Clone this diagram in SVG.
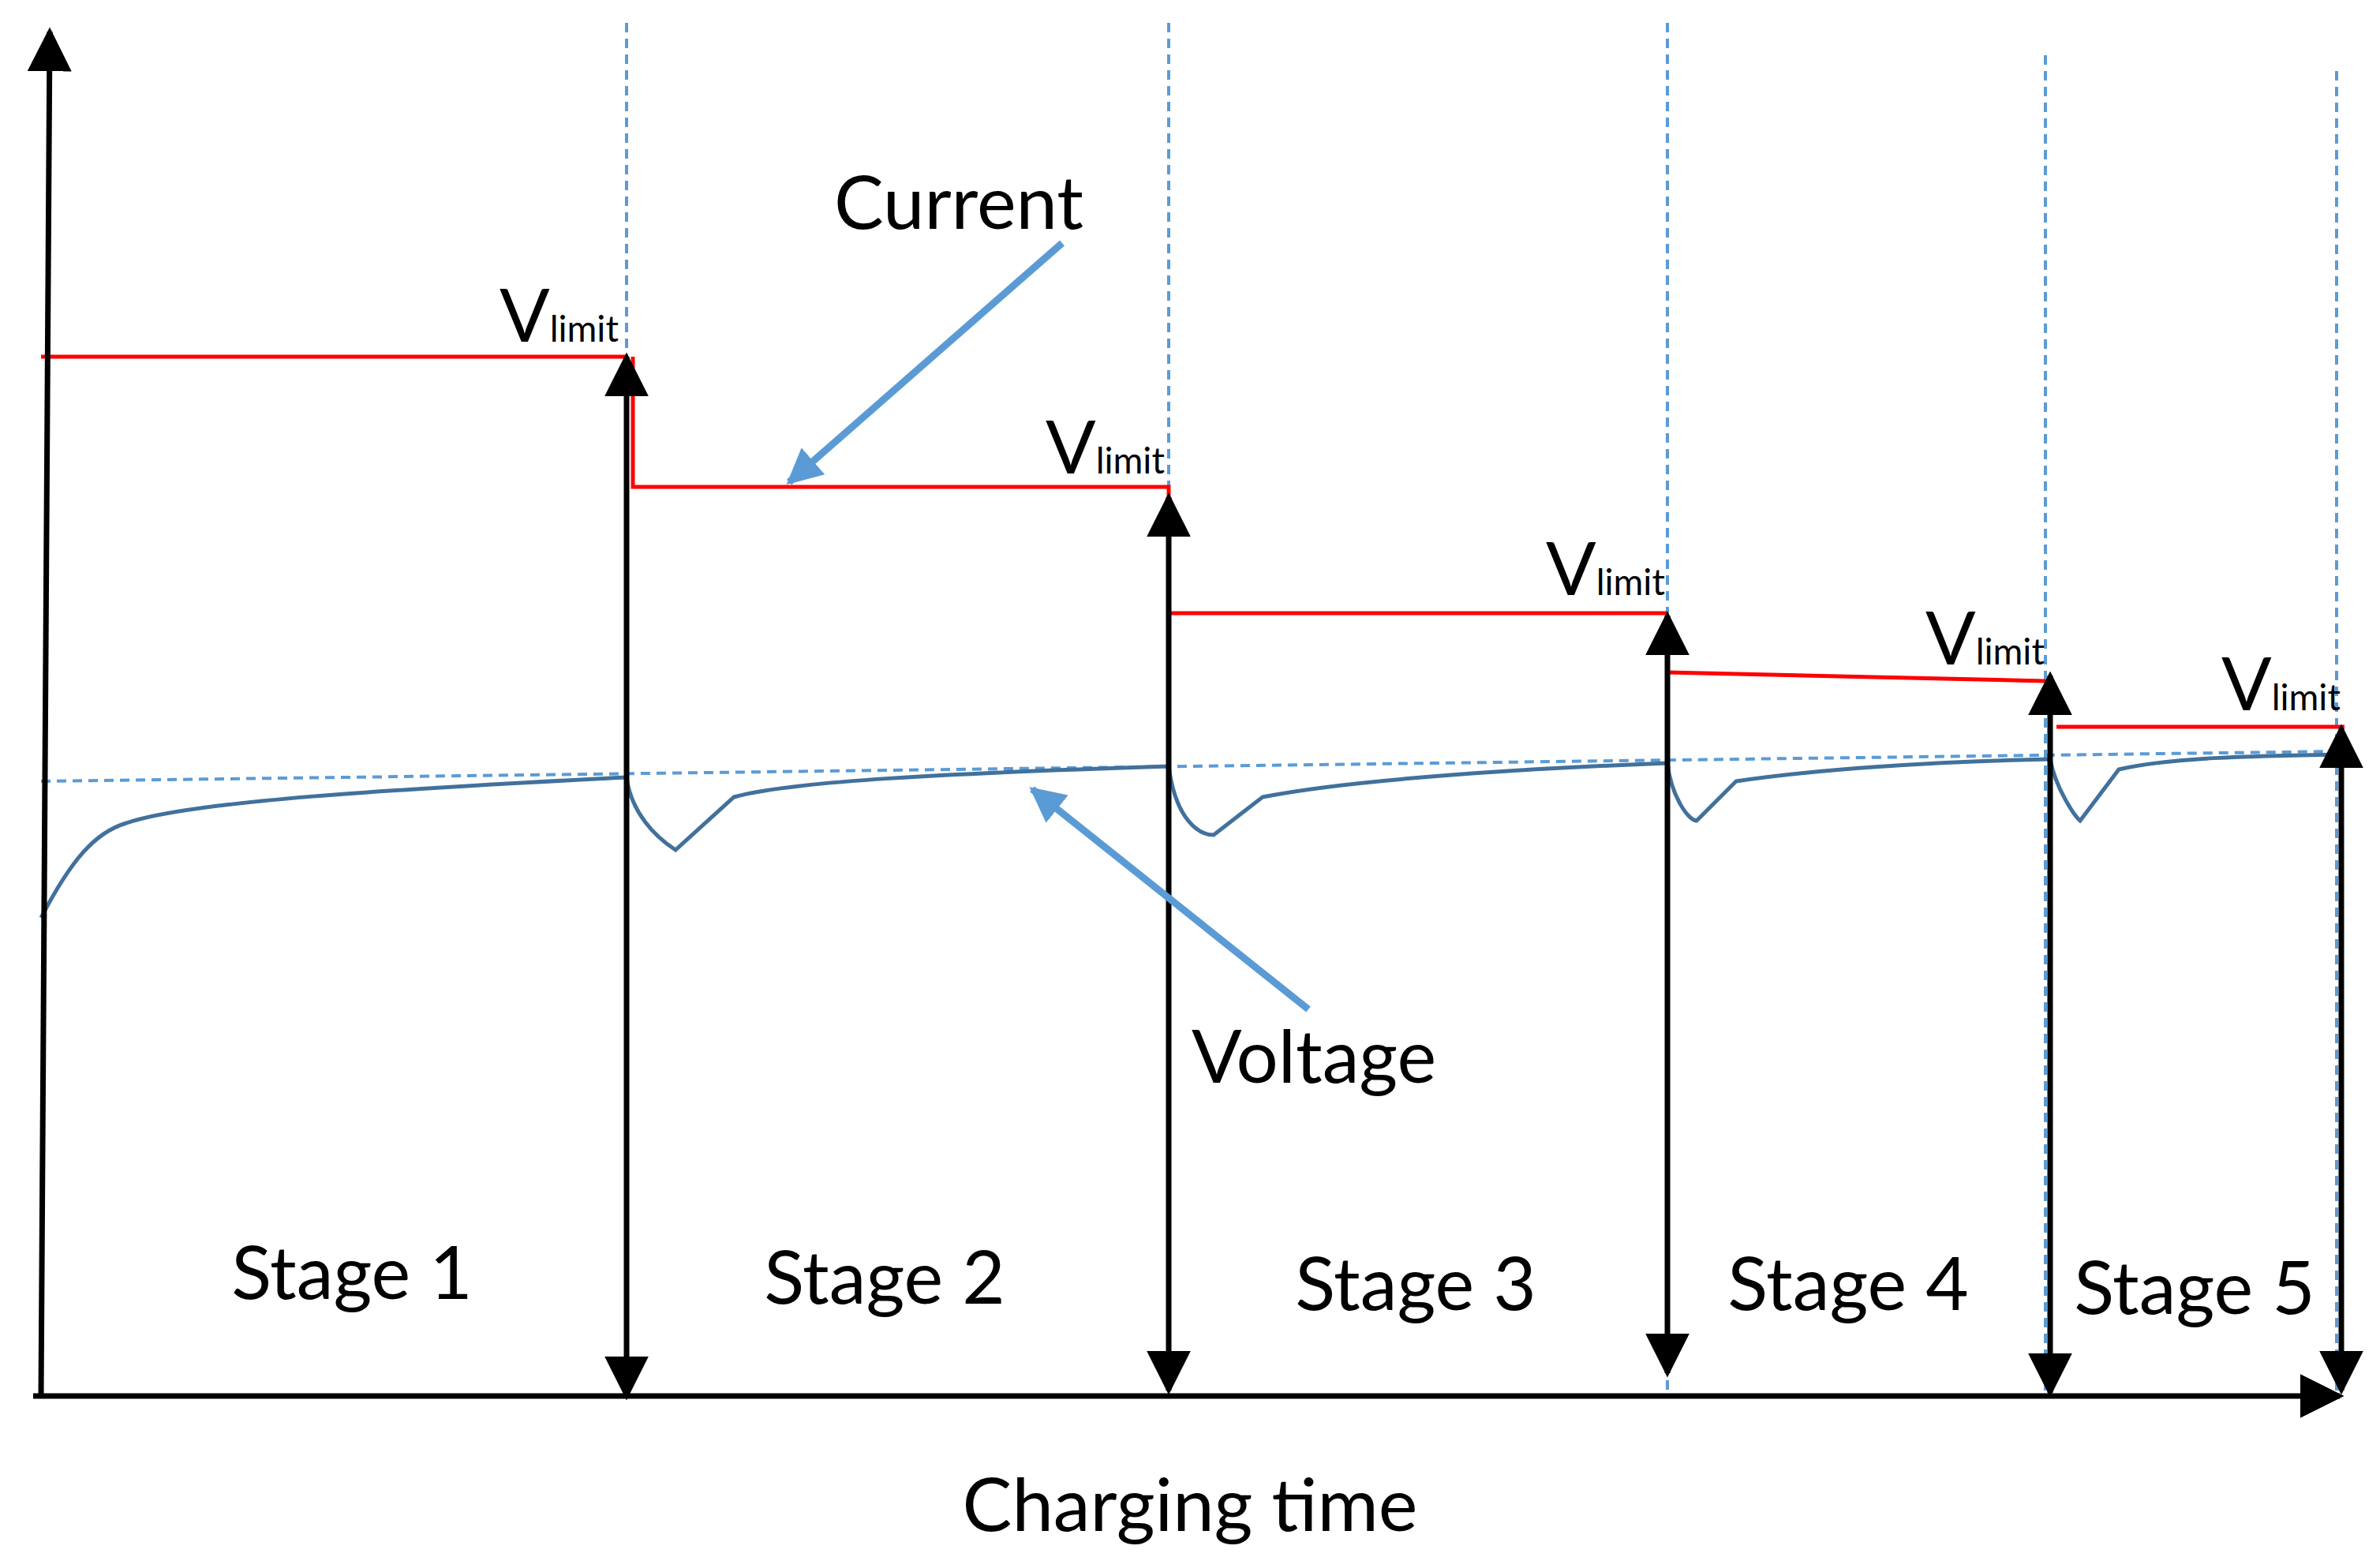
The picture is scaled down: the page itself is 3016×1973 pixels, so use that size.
<svg xmlns="http://www.w3.org/2000/svg" width="3016" height="1973" viewBox="0 0 3016 1973">
<style>
text{font-family:Lato,"Open Sans",sans-serif;fill:#000}
.lab{font-size:94px}
.sub{font-size:46px}
.dash{stroke:#5b9bd5;stroke-width:4;stroke-dasharray:12 8;fill:none}
.red{stroke:#ff0000;stroke-width:5;fill:none}
.blk{stroke:#000;stroke-width:7;fill:none}
</style>
<defs>
<marker id="ah" viewBox="0 0 10 10" refX="9" refY="5" markerWidth="8" markerHeight="8" markerUnits="strokeWidth" orient="auto-start-reverse"><path d="M0,0 L10,5 L0,10 z" fill="#000"/></marker>
<marker id="bh" viewBox="0 0 10 10" refX="9" refY="5" markerWidth="5" markerHeight="5" markerUnits="strokeWidth" orient="auto"><path d="M0,0 L10,5 L0,10 z" fill="#5b9bd5"/></marker>
</defs>
<rect width="3016" height="1973" fill="#fff"/>
<g id="connectors">
<line class="dash" x1="794" y1="29" x2="794" y2="1769"/>
<line class="dash" x1="1481" y1="29" x2="1481" y2="1769"/>
<line class="dash" x1="2113" y1="29" x2="2113" y2="1769"/>
<line class="dash" x1="2592" y1="70" x2="2592" y2="1769"/>
<line class="dash" x1="2961" y1="90" x2="2961" y2="1769"/>
<line class="dash" x1="52" y1="990" x2="2971" y2="952"/>
<polyline class="red" points="52,452 794,452"/>
<polyline class="red" points="802,452 802,617 1481,617 1481,630"/>
<line class="red" x1="1481" y1="777" x2="2113" y2="777"/>
<line class="red" x1="2113" y1="852" x2="2592" y2="863"/>
<line class="red" x1="2606" y1="921" x2="2971" y2="921"/>
<path d="M52,1163 C90,1090 120,1055 160,1043 C240,1015 500,1000 794,985 C800,1030 830,1060 856,1077 L930,1010 C1000,990 1200,980 1481,971 C1490,1040 1520,1058 1538,1058 L1600,1010 C1700,990 1900,975 2113,967 C2118,1010 2140,1040 2150,1040 L2200,990 C2300,975 2450,965 2598,962 C2605,1000 2630,1035 2636,1040 L2685,975 C2750,960 2850,958 2971,956" fill="none" stroke="#41719c" stroke-width="5"/>
<line class="blk" x1="42" y1="1769" x2="2965" y2="1769" marker-end="url(#ah)"/>
<line class="blk" x1="52" y1="1769" x2="63" y2="40" marker-end="url(#ah)" stroke-width="8"/>
<line class="blk" x1="794" y1="452" x2="794" y2="1769" marker-start="url(#ah)" marker-end="url(#ah)"/>
<line class="blk" x1="1481" y1="630" x2="1481" y2="1762" marker-start="url(#ah)" marker-end="url(#ah)"/>
<line class="blk" x1="2113" y1="780" x2="2113" y2="1740" marker-start="url(#ah)" marker-end="url(#ah)"/>
<line class="blk" x1="2598" y1="856" x2="2598" y2="1765" marker-start="url(#ah)" marker-end="url(#ah)"/>
<line class="blk" x1="2967" y1="923" x2="2967" y2="1762" marker-start="url(#ah)" marker-end="url(#ah)"/>
<line x1="1346" y1="308" x2="1000" y2="611" stroke="#5b9bd5" stroke-width="9" marker-end="url(#bh)"/>
<line x1="1658" y1="1279" x2="1308" y2="1000" stroke="#5b9bd5" stroke-width="9" marker-end="url(#bh)"/>
</g>
<g id="labels">
<text class="lab" x="1215" y="290" text-anchor="middle">Current</text>
<text class="lab" x="1665" y="1372" text-anchor="middle">Voltage</text>
<text class="lab" x="633" y="433">V<tspan class="sub">limit</tspan></text>
<text class="lab" x="1325" y="600">V<tspan class="sub">limit</tspan></text>
<text class="lab" x="1959" y="754">V<tspan class="sub">limit</tspan></text>
<text class="lab" x="2440" y="842">V<tspan class="sub">limit</tspan></text>
<text class="lab" x="2815" y="900">V<tspan class="sub">limit</tspan></text>
<text class="lab" x="446" y="1646" text-anchor="middle">Stage 1</text>
<text class="lab" x="1121" y="1652" text-anchor="middle">Stage 2</text>
<text class="lab" x="1794" y="1660" text-anchor="middle">Stage 3</text>
<text class="lab" x="2342" y="1660" text-anchor="middle">Stage 4</text>
<text class="lab" x="2781" y="1665" text-anchor="middle">Stage 5</text>
<text class="lab" x="1508" y="1940" text-anchor="middle">Charging time</text>
</g>
</svg>
